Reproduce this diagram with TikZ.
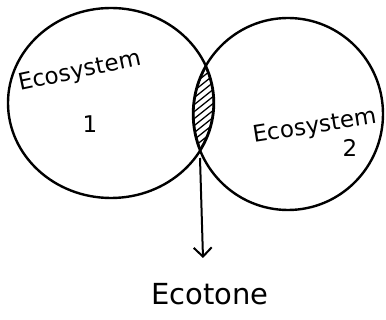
\documentclass[tikz,border=0pt]{standalone}
\usepackage{fontspec}
\setmainfont{DejaVu Sans}
\usetikzlibrary{shapes.geometric,arrows.meta}
\tikzset{
  ecocircle/.style={ellipse, draw, line width=2.4pt, inner sep=0pt},
  lbl/.style={font=\fontsize{23}{25}\selectfont, align=center, inner sep=0pt},
  hatch/.style={line width=1.3pt},
  pointer/.style={line width=2pt, -{Straight Barb[length=9pt,width=18pt,line width=2pt]}}
}
\begin{document}
\begin{tikzpicture}[x=1pt,y=-1pt]
\useasboundingbox (0,0) rectangle (386,320);
\node[ecocircle, minimum width=206pt, minimum height=190pt] (eco1) at (111,103) {};
\node[ecocircle, minimum width=190pt, minimum height=192pt] (eco2) at (288,114) {};
\begin{scope}
  \clip (111,103) ellipse [x radius=103, y radius=95];
  \clip (288,114) ellipse [x radius=95, y radius=96];
  \foreach \k in {0,...,16} {
    \draw[hatch] (180,60+7*\k) -- (230,20+7*\k);
  }
  \draw[line width=3.2pt] (111,103) ellipse [x radius=103, y radius=95];
  \draw[line width=3.2pt] (288,114) ellipse [x radius=95, y radius=96];
\end{scope}
\node[lbl, rotate=12] (t1) at (80,72) {Ecosystem};
\node[lbl] (n1) at (90,124) {1};
\node[lbl, rotate=9] (t2) at (315,127) {Ecosystem};
\node[lbl] (n2) at (350,148) {2};
\coordinate (lensbot) at (200,158);
\coordinate (tip) at (203,258);
\node[font=\fontsize{29}{31}\selectfont, inner sep=0pt] (ecotone) at (210,294) {Ecotone};
\draw[pointer] (lensbot) -- (tip);
\end{tikzpicture}
\end{document}
